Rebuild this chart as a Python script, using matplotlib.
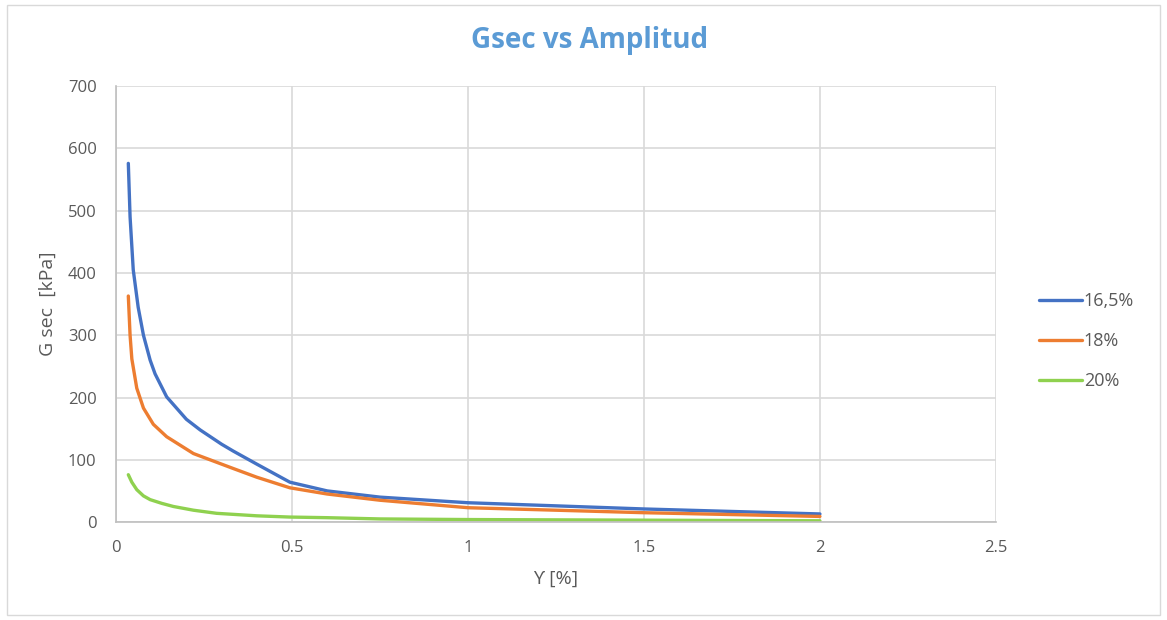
"""
Gsec vs Amplitud -- secant shear modulus curves for three moisture contents.
"""
import matplotlib
matplotlib.use("Agg")
import matplotlib.pyplot as plt
from matplotlib.patches import Rectangle

plt.rcParams['font.family'] = ['Open Sans', 'DejaVu Sans']

# ==================== DATA ====================
amp_165 = [0.035, 0.040, 0.049, 0.063, 0.078, 0.097, 0.111, 0.144, 0.2,
           0.239, 0.3, 0.333, 0.4, 0.494, 0.6, 0.75, 1.0, 1.25, 1.5, 1.75, 2.0]
gsec_165 = [576, 490, 405, 345, 300, 260, 238, 201, 165,
            148, 125, 114, 93, 64, 50, 40, 31, 26, 21, 17, 13]

amp_18 = [0.035, 0.040, 0.045, 0.059, 0.078, 0.106, 0.144, 0.22, 0.333,
          0.4, 0.494, 0.6, 0.75, 1.0, 1.25, 1.5, 1.75, 2.0]
gsec_18 = [363, 300, 262, 215, 183, 157, 137, 110, 86,
           72, 55, 45, 35, 23, 19, 15, 12, 9]

amp_20 = [0.035, 0.045, 0.059, 0.078, 0.097, 0.13, 0.163, 0.22, 0.286,
          0.4, 0.494, 0.6, 0.75, 1.0, 1.25, 1.5, 1.75, 2.0]
gsec_20 = [76, 64, 52, 42, 36, 30, 25, 19, 14,
           10, 8, 7, 5, 4, 3.5, 3, 2.5, 2]

series_labels = ['16,5%', '18%', '20%']
colors = ['#4472C4', '#ED7D31', '#8FD14F']

# ==================== PLOT ====================
fig = plt.figure(figsize=(11.67, 6.2), dpi=100)
ax = fig.add_axes([0.0994, 0.158, 0.754, 0.703])

series = [(amp_165, gsec_165), (amp_18, gsec_18), (amp_20, gsec_20)]
for (xs, ys), lab, c in zip(series, series_labels, colors):
    ax.plot(xs, ys, color=c, linewidth=2.4, label=lab,
            solid_capstyle='round', solid_joinstyle='round')

ax.set_xlim(0, 2.5)
ax.set_ylim(0, 700)
ax.set_xticks([0, 0.5, 1, 1.5, 2, 2.5])
ax.set_xticklabels(['0', '0.5', '1', '1.5', '2', '2.5'])
ax.set_yticks(range(0, 701, 100))
ax.grid(True, color='#D9D9D9', linewidth=1.2)
ax.set_axisbelow(True)
for side in ['top', 'right']:
    ax.spines[side].set_visible(False)
for side in ['left', 'bottom']:
    ax.spines[side].set_color('#BFBFBF')
    ax.spines[side].set_linewidth(1.2)
ax.tick_params(length=0, labelsize=12, colors='#595959')
ax.tick_params(axis='y', pad=14)
ax.tick_params(axis='x', pad=13)

ax.set_xlabel('ϒ [%]', fontsize=14, color='#595959', labelpad=10)
ax.set_ylabel('G sec  [kPa]', fontsize=14, color='#595959', labelpad=8)
fig.text(0.505, 0.935, 'Gsec vs Amplitud', ha='center', va='center',
         fontsize=20, fontweight='bold', color='#5B9BD5')

ax.legend(loc='center left', bbox_to_anchor=(1.03, 0.415), frameon=False,
          fontsize=13, labelcolor='#595959', handlelength=2.4,
          handletextpad=0.1, labelspacing=1.2)

# chart border
fig.patches.append(Rectangle((0.006, 0.008), 0.988, 0.984, transform=fig.transFigure,
                             fill=False, edgecolor='#D9D9D9', linewidth=1))

plt.savefig('out.png', dpi=100)
plt.close()
